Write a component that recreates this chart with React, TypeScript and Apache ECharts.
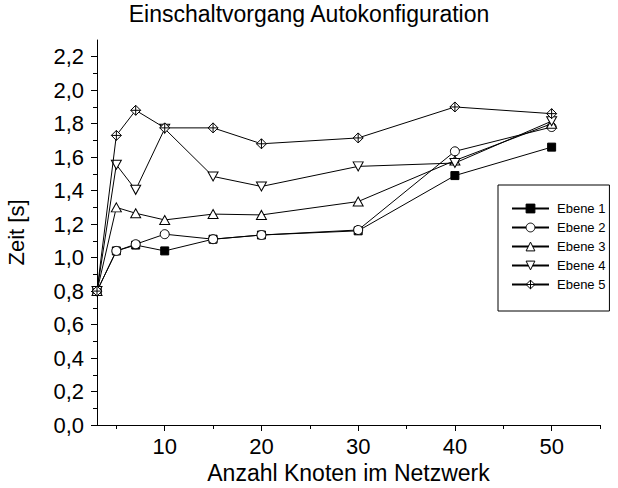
import React, { useEffect, useRef } from "react";
import * as echarts from "echarts";

const xValues = [3, 5, 7, 10, 15, 20, 30, 40, 50];
const ebene1 = [0.8, 1.04, 1.075, 1.04, 1.11, 1.135, 1.16, 1.49, 1.66];
const ebene2 = [0.8, 1.04, 1.08, 1.14, 1.11, 1.135, 1.165, 1.635, 1.78];
const ebene3 = [0.8, 1.3, 1.265, 1.225, 1.26, 1.255, 1.335, 1.58, 1.8];
const ebene4 = [0.8, 1.555, 1.405, 1.77, 1.485, 1.425, 1.545, 1.565, 1.815];
const ebene5 = [0.8, 1.73, 1.88, 1.775, 1.775, 1.68, 1.715, 1.9, 1.86];

const seriesNames = ["Ebene 1", "Ebene 2", "Ebene 3", "Ebene 4", "Ebene 5"];
const xMajorTicks = [10, 20, 30, 40, 50];
const xMinorTicks = [5, 15, 25, 35, 45, 55];
const yMajorTicks = [0, 0.2, 0.4, 0.6, 0.8, 1.0, 1.2, 1.4, 1.6, 1.8, 2.0, 2.2];
const yMinorTicks = [0.1, 0.3, 0.5, 0.7, 0.9, 1.1, 1.3, 1.5, 1.7, 1.9, 2.1];

const FONT = "'Liberation Sans', Arial, Helvetica, sans-serif";

export default function App() {
  const ref = useRef<HTMLDivElement>(null);
  useEffect(() => {
    if (!ref.current) return;
    const chart = echarts.init(ref.current, undefined, { renderer: "svg" });
    const allData = [ebene1, ebene2, ebene3, ebene4, ebene5];
    const symbols = [
      "rect",
      "circle",
      "triangle",
      "path://M0,0L10,0L5,9Z",
      "path://M5,0L10,5L5,10L0,5Z M5,0L5,10 M0,5L10,5",
    ];
    const sizes: any[] = [8, 9, [10, 9], [10, 9], 10];
    const fills = ["#000", "#fff", "#fff", "#fff", "#fff"];
    const series = allData.map((d, i) => ({
      name: seriesNames[i],
      type: "line",
      data: xValues.map((x, j) => [x, d[j]]),
      symbol: symbols[i],
      symbolSize: sizes[i],
      showAllSymbol: true,
      lineStyle: { color: "#000", width: 1 },
      itemStyle: {
        color: fills[i],
        borderColor: "#000",
        borderWidth: 1,
      },
      z: 2 + i,
    }));
    const baseAxis = {
      axisLine: { show: true, onZero: false, lineStyle: { color: "#000", width: 1 } },
      splitLine: { show: false },
    };
    chart.setOption({
      animation: false,
      backgroundColor: "#fff",
      title: {
        text: "Einschaltvorgang Autokonfiguration",
        left: "center",
        top: 2,
        padding: [0, 5, 0, 5],
        textStyle: { fontFamily: FONT, fontSize: 23, fontWeight: "normal", color: "#000" },
      },
      grid: { left: 97, right: 18, top: 40, bottom: 63, containLabel: false, outerBoundsMode: "none" },
      legend: {
        orient: "vertical",
        left: 498,
        top: 185,
        padding: [17, 4, 20, 13],
        itemWidth: 37,
        itemHeight: 11,
        itemGap: 6,
        borderColor: "#000",
        borderWidth: 1,
        backgroundColor: "#fff",
        data: seriesNames.map((n, i) => ({
          name: n,
          itemStyle: { color: fills[i], borderColor: "#000", borderWidth: 1 },
        })),
        textStyle: { fontFamily: FONT, fontSize: 13, color: "#000", padding: [0, 0, 0, 3] },
      },
      xAxis: [
        {
          ...baseAxis,
          type: "value",
          position: "bottom",
          min: 3,
          max: 55,
          name: "Anzahl Knoten im Netzwerk",
          nameLocation: "middle",
          nameGap: 35,
          nameTextStyle: { fontFamily: FONT, fontSize: 23, color: "#000" },
          axisTick: { show: true, inside: false, length: 6, customValues: xMajorTicks, lineStyle: { color: "#000" } },
          axisLabel: { customValues: xMajorTicks, fontFamily: FONT, fontSize: 22, color: "#000", margin: 10 },
        },
        {
          type: "value",
          position: "bottom",
          min: 3,
          max: 55,
          axisLine: { show: false },
          splitLine: { show: false },
          axisLabel: { show: false },
          axisTick: { show: true, length: 4, customValues: xMinorTicks, lineStyle: { color: "#000" } },
        },
      ],
      yAxis: [
        {
          ...baseAxis,
          type: "value",
          position: "left",
          min: 0,
          max: 2.3,
          name: "Zeit [s]",
          nameLocation: "middle",
          nameGap: 70,
          nameTextStyle: { fontFamily: FONT, fontSize: 22, color: "#000" },
          axisTick: { show: true, inside: false, length: 6, customValues: yMajorTicks, lineStyle: { color: "#000" } },
          axisLabel: {
            customValues: yMajorTicks,
            fontFamily: FONT,
            fontSize: 22,
            color: "#000",
            margin: 13,
            formatter: (v: number) => v.toFixed(1).replace(".", ","),
          },
        },
        {
          type: "value",
          position: "left",
          min: 0,
          max: 2.3,
          axisLine: { show: false },
          splitLine: { show: false },
          axisLabel: { show: false },
          axisTick: { show: true, length: 4, customValues: yMinorTicks, lineStyle: { color: "#000" } },
        },
      ],
      series,
    });
    return () => chart.dispose();
  }, []);
  return (
    <div
      ref={ref}
      style={{ position: "fixed", left: 0, top: 0, width: 618, height: 488 }}
    />
  );
}
